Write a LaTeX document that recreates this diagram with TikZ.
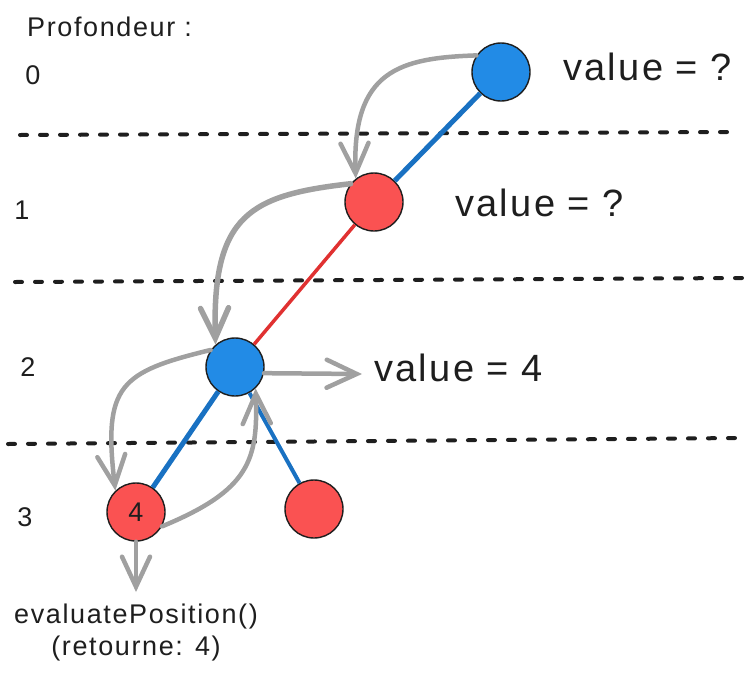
\documentclass[tikz,border=0pt]{standalone}
\usepackage{fontspec}
\setmainfont{Liberation Sans}[LetterSpace=6]
\usetikzlibrary{arrows.meta,positioning}
\definecolor{bleu}{HTML}{228BE6}
\definecolor{rouge}{HTML}{FA5252}
\definecolor{bleufonce}{HTML}{1971C2}
\definecolor{rougefonce}{HTML}{E03131}
\definecolor{gris}{HTML}{A0A0A0}
\definecolor{encre}{HTML}{1E1E1E}
\tikzstyle{noeudmax}=[
	circle,
	draw=encre,
	line width=1.4,
	fill=bleu,
	minimum size=58,
	inner sep=0]
\tikzstyle{noeudmin}=[
	circle,
	draw=encre,
	line width=1.4,
	fill=rouge,
	minimum size=58,
	inner sep=0,
	text=encre,
	font=\fontsize{27}{30}\selectfont]
\tikzstyle{branche}=[
	line width=5,
	draw=bleufonce]
\tikzstyle{appel}=[
	line width=4.5,
	draw=gris,
	line cap=round,
	-{Straight Barb[length=30,width=28,line cap=round]}]
\tikzstyle{niveau}=[
	line width=4,
	draw=encre,
	line cap=round,
	dash pattern=on 7 off 13]
\tikzstyle{texte}=[
	inner sep=0,
	text=encre,
	font=\fontsize{38}{44}\selectfont]
\tikzstyle{petit}=[
	inner sep=0,
	text=encre,
	align=center,
	font=\fontsize{27}{32}\selectfont]

\begin{document}
\begin{tikzpicture}[x=1pt,y=-1pt]
	\useasboundingbox (0,0) rectangle (749,678);
	\begin{scope}[node distance=10pt]
		% niveaux
		\draw[niveau] (20,135) -- (733,132);
		\draw[niveau] (15,282) -- (742,278);
		\draw[niveau] (8,444) -- (740,438);
		\node[petit,anchor=west]	(prof)	at (27,27)	{Profondeur :};
		\node[petit]	(p0)	at (33,75)	{0};
		\node[petit]	(p1)	at (22,210)	{1};
		\node[petit]	(p2)	at (28,367)	{2};
		\node[petit]	(p3)	at (25,517)	{3};
		% arbre
		\node[noeudmax]	(r)	at (501,72)	{};
		\node[noeudmin]	(a)	at (374,202)	{};
		\node[noeudmax]	(b)	at (235,367)	{};
		\node[noeudmin]	(c)	at (136,512)	{4};
		\node[noeudmin]	(d)	at (314,509)	{};
		\draw[branche]	(r) -- (a);
		\draw[branche,draw=rougefonce,line width=3.5]	(a) -- (b);
		\draw[branche]	(b) -- (c);
		\draw[branche,line width=4]	(b) -- (d);
		% appels
		\draw[appel]	(r.146) .. controls (400,58) and (352,70) .. (a.128);
		\draw[appel,line width=5.5]	(a.142) .. controls (250,195) and (212,215) .. (b.131);
		\draw[appel]	(b.145) .. controls (120,372) and (103,385) .. (c.134);
		\draw[appel]	(c.331) .. controls (250,490) and (258,460) .. (b.314);
		\coordinate	(v)	at (362,374);
		\draw[appel]	(b.-12) -- (v);
		\coordinate	(e)	at (136,592);
		\draw[appel]	(c.south) -- (e);
		% valeurs
		\node[texte,anchor=base west]	(vr)	at (563,80)	{value = ?};
		\node[texte,anchor=base west]	(va)	at (455,216)	{value = ?};
		\node[texte,anchor=base west]	(vb)	at (374,381)	{value = 4};
		\node[petit]	(eval)	[below=12pt of e]	{evaluatePosition()\\(retourne: 4)};
	\end{scope}
\end{tikzpicture}
\end{document}
